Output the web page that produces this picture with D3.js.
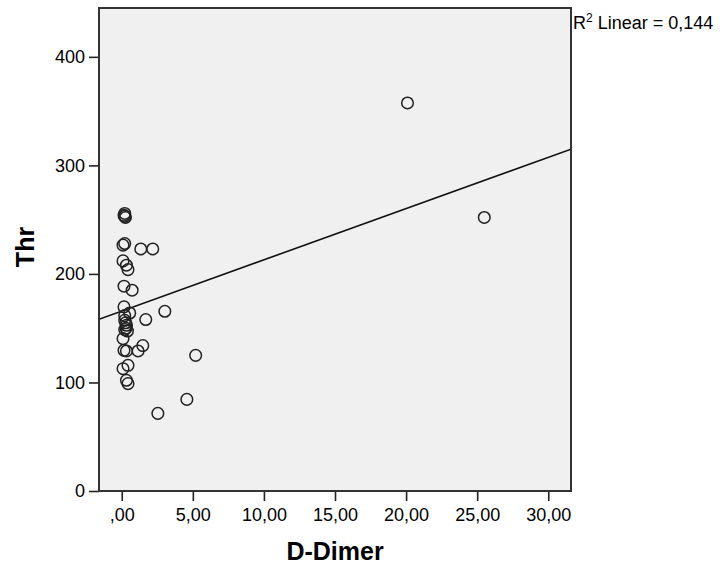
<!DOCTYPE html>
<html lang="en">
<head>
<meta charset="UTF-8">
<title>Thr vs D-Dimer</title>
<script src="https://cdn.jsdelivr.net/npm/d3@7"></script>
<style>
    body { margin: 0; background: #fff; }
    text { font-family: "Liberation Sans", Arial, sans-serif; fill: #000; }
    .tick-label { font-size: 18px; }
    .axis-title { font-size: 25px; font-weight: bold; }
</style>
</head>
<body>
<script>
// D-Dimer (x) and Thr (y)
const dDimer = [0.21, 0.16, 0.26, 0.21, 0.21, 0.09, 1.34, 2.18, 0.09, 0.33,
                0.44, 0.16, 0.73, 0.16, 0.56, 0.21, 0.21, 0.28, 0.33, 0.30,
                0.21, 0.40, 0.09, 0.16, 0.33, 1.15, 1.48, 0.44, 0.09, 0.33,
                0.44, 3.03, 1.69, 5.20, 4.58, 2.54, 20.1, 25.5];
const thr = [255.7, 254, 252, 253, 228, 226.5, 223, 223, 212, 208,
             204, 188.7, 185, 169.6, 164, 161.6, 157.3, 155, 152.7, 150,
             148.7, 147.4, 140.4, 129.6, 129, 129, 134, 115.8, 112.7, 102,
             98.9, 165.6, 158, 125, 84.4, 71.5, 357.5, 252];

const xTicks = [0, 5, 10, 15, 20, 25, 30];
const yTicks = [0, 100, 200, 300, 400];
const xDomain = [-1.6, 31.6];
const yDomain = [0, 445];

// linear fit shown in the chart
const fitIntercept = 165.8;
const fitSlope = 4.72;
const r2Label = "0,144";

const width = 723, height = 568;
const plot = { left: 99, right: 571, top: 8, bottom: 491 };

const svg = d3.select("body").append("svg")
    .attr("width", width)
    .attr("height", height);

const x = d3.scaleLinear().domain(xDomain).range([plot.left, plot.right]);
const y = d3.scaleLinear().domain(yDomain).range([plot.bottom, plot.top]);

svg.append("defs").append("clipPath").attr("id", "clip")
    .append("rect")
    .attr("x", plot.left).attr("y", plot.top)
    .attr("width", plot.right - plot.left).attr("height", plot.bottom - plot.top);

svg.append("rect")
    .attr("x", plot.left).attr("y", plot.top)
    .attr("width", plot.right - plot.left).attr("height", plot.bottom - plot.top)
    .attr("fill", "#f0f0f0");

function fmtX(v) {
    let s = v.toFixed(2).replace(".", ",");
    if (s.startsWith("0,")) s = s.slice(1);
    return s;
}

const xAxis = d3.axisBottom(x).tickValues(xTicks).tickFormat(fmtX).tickSize(10).tickPadding(7);
const yAxis = d3.axisLeft(y).tickValues(yTicks).tickFormat(d3.format("d")).tickSize(10).tickPadding(4);

const gx = svg.append("g").attr("transform", `translate(0,${plot.bottom})`).call(xAxis);
const gy = svg.append("g").attr("transform", `translate(${plot.left},0)`).call(yAxis);
[gx, gy].forEach(g => {
    g.select(".domain").remove();
    g.selectAll(".tick line").attr("stroke", "#222").attr("stroke-width", 1.6);
    g.selectAll(".tick text").attr("class", "tick-label").attr("fill", "#111");
});

// fit line
svg.append("line")
    .attr("clip-path", "url(#clip)")
    .attr("x1", x(xDomain[0])).attr("y1", y(fitIntercept + fitSlope * xDomain[0]))
    .attr("x2", x(xDomain[1])).attr("y2", y(fitIntercept + fitSlope * xDomain[1]))
    .attr("stroke", "#111").attr("stroke-width", 1.6);

// points
svg.append("g").selectAll("circle")
    .data(dDimer.map((d, i) => [d, thr[i]]))
    .enter().append("circle")
    .attr("cx", d => x(d[0]))
    .attr("cy", d => y(d[1]))
    .attr("r", 5.8)
    .attr("fill", "none")
    .attr("stroke", "#222")
    .attr("stroke-width", 1.5);

// frame
svg.append("rect")
    .attr("x", plot.left).attr("y", plot.top)
    .attr("width", plot.right - plot.left).attr("height", plot.bottom - plot.top)
    .attr("fill", "none").attr("stroke", "#333").attr("stroke-width", 2);

// R2 label
const r2 = svg.append("text")
    .attr("x", plot.right + 2).attr("y", 29)
    .attr("class", "tick-label");
r2.append("tspan").text("R");
r2.append("tspan").attr("dy", -7).attr("font-size", 12).text("2");
r2.append("tspan").attr("dy", 7).text(" Linear = " + r2Label);

// axis titles
svg.append("text")
    .attr("class", "axis-title")
    .attr("x", (plot.left + plot.right) / 2).attr("y", 560)
    .attr("text-anchor", "middle")
    .text("D-Dimer");

svg.append("text")
    .attr("class", "axis-title")
    .attr("transform", `translate(34,247) rotate(-90)`)
    .attr("text-anchor", "middle")
    .text("Thr");
</script>
</body>
</html>
